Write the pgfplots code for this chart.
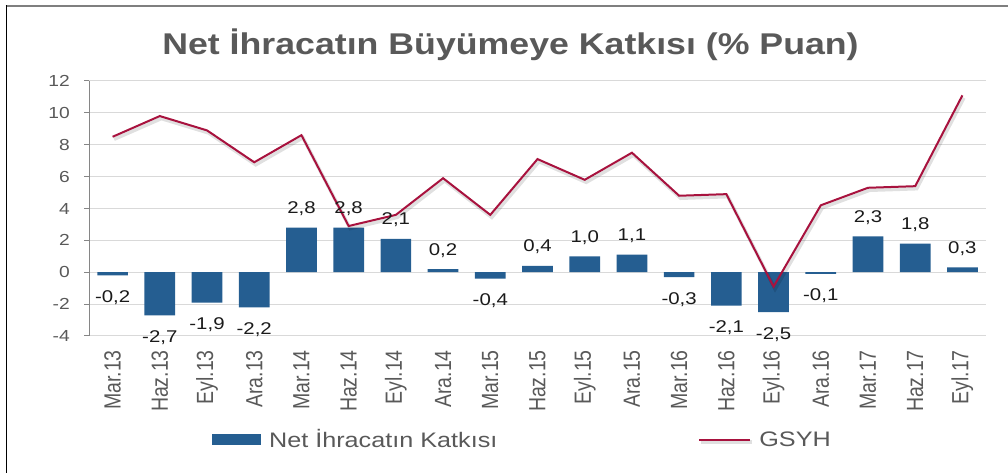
\documentclass[border=0pt]{standalone}
\usepackage{pgfplots}
\usepackage{pgfplotstable}
\pgfplotsset{compat=1.18}
\usepackage{fontspec}
\setmainfont{Liberation Sans}[FakeStretch=1.2]
\newfontfamily\titlefont{Liberation Sans}[FakeStretch=1.19]
\newfontfamily\plainfont{Liberation Sans}
\definecolor{barblue}{HTML}{255E91}
\definecolor{gdp}{HTML}{A8123E}
\definecolor{txtgray}{HTML}{595959}
\definecolor{gridgray}{HTML}{D9D9D9}
\definecolor{axgray}{HTML}{868686}
\definecolor{lblblack}{HTML}{1A1A1A}
\newcommand\xl[1]{\scalebox{1}[1.2]{#1}}

\pgfplotstableread{
x y lab
4 2.8 2,8
5 2.8 2,8
6 2.1 2,1
7 0.2 0,2
9 0.4 0,4
10 1.0 1,0
11 1.1 1,1
16 2.25 2,3
17 1.8 1,8
18 0.3 0,3
}\posbars

\pgfplotstableread{
x y lab
0 -0.2 -0,2
1 -2.7 -2,7
2 -1.9 -1,9
3 -2.2 -2,2
8 -0.4 -0,4
12 -0.3 -0,3
13 -2.1 -2,1
14 -2.5 -2,5
15 -0.1 -0,1
}\negbars

\pgfplotstableread{
x y
0 8.5
1 9.8
2 8.9
3 6.9
4 8.6
5 2.9
6 3.6
7 5.9
8 3.6
9 7.1
10 5.8
11 7.5
12 4.8
13 4.9
14 -0.9
15 4.2
16 5.3
17 5.4
18 11.1
}\gsyh

\begin{document}
\begin{tikzpicture}[x=1pt,y=1pt]
\useasboundingbox (0,0) rectangle (1008,473);
\draw[color={rgb,255:red,127;green,127;blue,127}, line width=2pt] (5.5,466.5) -- (1008,466.5);
\draw[black, line width=1.4pt] (6.4,0) -- (6.4,467.5);
\node[anchor=base, text=txtgray, font=\titlefont\bfseries\fontsize{30}{30}\selectfont, inner sep=0pt] at (510.5,418.7) {Net İhracatın Büyümeye Katkısı (\% Puan)};
\begin{axis}[
  at={(89pt,137pt)}, anchor=south west, scale only axis,
  width=897pt, height=255pt,
  xmin=-0.5, xmax=18.5, ymin=-4, ymax=12,
  ytick={-4,-2,0,2,4,6,8,10,12},
  yticklabels={-4,-2,0,2,4,6,8,10,12},
  xtick={0,...,18},
  xticklabels={\xl{Mar.13},\xl{Haz.13},\xl{Eyl.13},\xl{Ara.13},\xl{Mar.14},\xl{Haz.14},\xl{Eyl.14},\xl{Ara.14},\xl{Mar.15},\xl{Haz.15},\xl{Eyl.15},\xl{Ara.15},\xl{Mar.16},\xl{Haz.16},\xl{Eyl.16},\xl{Ara.16},\xl{Mar.17},\xl{Haz.17},\xl{Eyl.17}},
  axis lines*=left,
  x axis line style={draw=none},
  y axis line style={draw=axgray, line width=1pt},
  ymajorgrids, grid style={gridgray, line width=1pt},
  tick align=outside, major tick length=5pt,
  ytick style={draw=axgray, line width=1pt},
  xtick style={draw=none},
  yticklabel style={font=\fontsize{16}{16}\selectfont, text=txtgray, inner sep=0pt, xshift=-14pt},
  xticklabel style={font=\plainfont\fontsize{19.5}{19.5}\selectfont, text=txtgray, rotate=90, anchor=east, inner sep=0pt, inner xsep=9pt},
  clip=false,
  legend columns=2,
  legend cell align=left,
  legend style={at={(axis description cs:0.137,-0.406)}, anchor=west, draw=none, fill=none, inner sep=0pt,
    font=\fontsize{21}{21}\selectfont, text=txtgray,
    /tikz/every odd column/.append style={column sep=6pt},
    /tikz/every even column/.append style={column sep=199pt}},
]
\addplot[ybar, bar width=30.7pt, bar shift=0pt, fill=barblue, draw=none,
  nodes near coords, point meta=explicit symbolic,
  every node near coord/.append style={font=\fontsize{17}{17}\selectfont, text=lblblack, anchor=south, inner sep=0pt, yshift=11.5pt},
  legend image code/.code={\fill[barblue] (0pt,-5.5pt) rectangle (49pt,5.5pt);}]
  table[x=x, y=y, meta=lab] {\posbars};
\addlegendentry{Net İhracatın Katkısı}
\addplot[ybar, bar width=30.7pt, bar shift=0pt, fill=barblue, draw=none, forget plot,
  nodes near coords, point meta=explicit symbolic,
  every node near coord/.append style={font=\fontsize{17}{17}\selectfont, text=lblblack, anchor=north, inner sep=0pt, yshift=-15pt}]
  table[x=x, y=y, meta=lab] {\negbars};
\addplot[gdp, line width=2pt, mark=none,
  preaction={draw=black, draw opacity=0.12, line width=3.5pt, transform canvas={xshift=1.5pt, yshift=-2.5pt}},
  legend image code/.code={\draw[gdp, line width=2pt] (0pt,0pt) -- (51pt,0pt);}]
  table[x=x, y=y] {\gsyh};
\addlegendentry{GSYH}
\end{axis}
\end{tikzpicture}
\end{document}
